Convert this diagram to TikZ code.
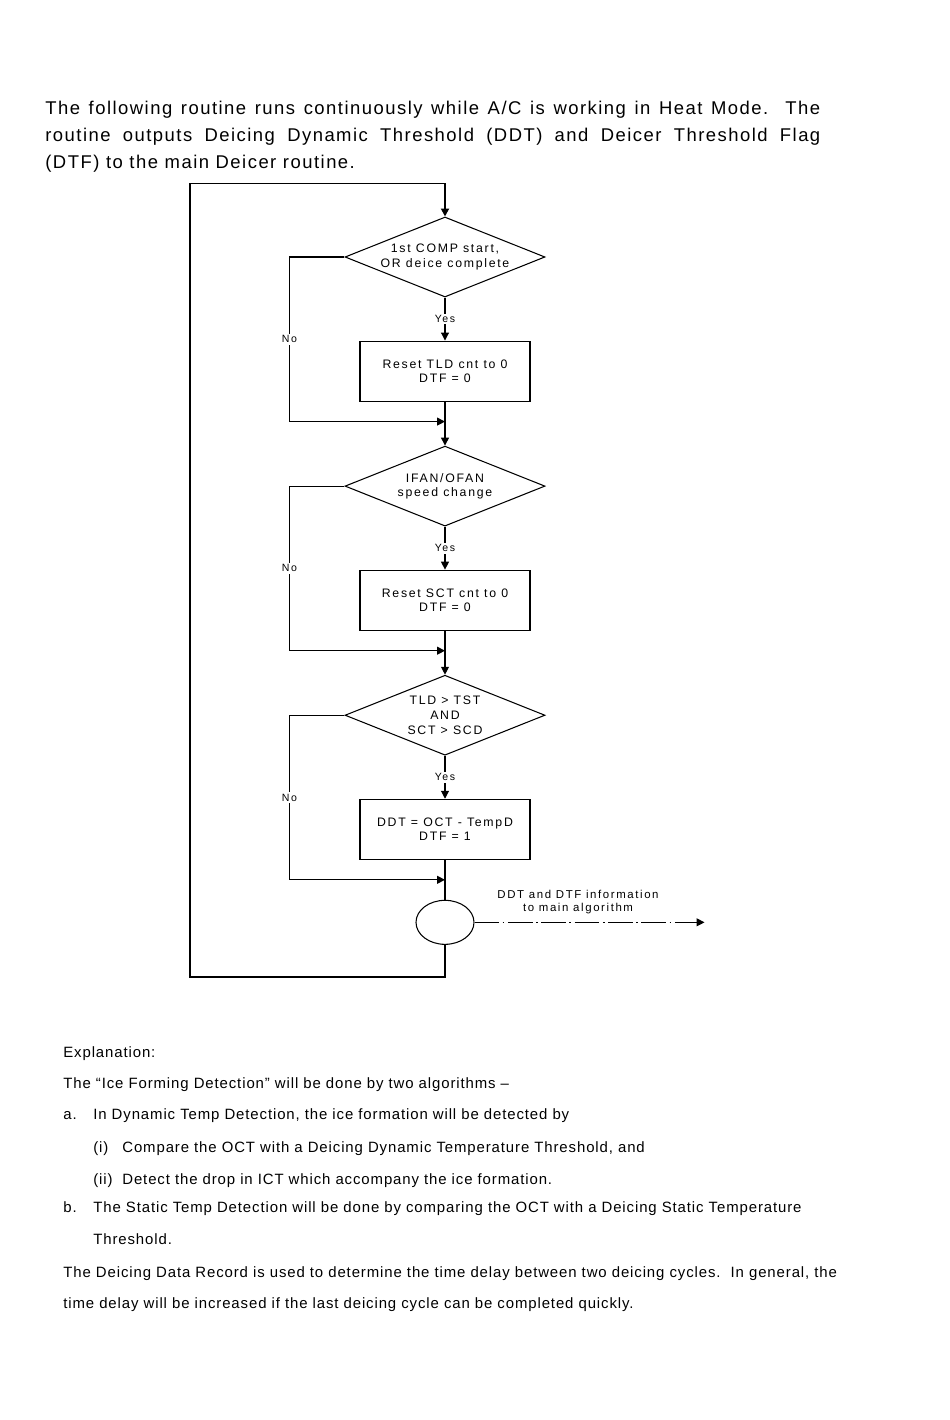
\documentclass[tikz,border=0pt]{standalone}
\usepackage{fontspec}
\setmainfont{Liberation Sans}
\newfontfamily\chartfont[LetterSpace=14]{Liberation Sans}
\newfontfamily\bodyfont[LetterSpace=8]{Liberation Sans}
\newfontfamily\notefont[LetterSpace=6]{Liberation Sans}
\usetikzlibrary{shapes.geometric, arrows.meta, positioning}
\tikzset{
    base/.style={
        draw,
        align=center,
        font=\chartfont\fontsize{7}{8.3}\selectfont,
        line width=0.6pt
    },
    decision/.style={base, diamond, aspect=2.5, minimum width=4cm, minimum height=1.6cm, inner sep=0pt},
    process/.style={base, rectangle, minimum width=3.4cm, minimum height=1.2cm, inner sep=2pt},
    junction/.style={base, ellipse, minimum width=1.16cm, minimum height=0.88cm},
    arrow/.style={-{Triangle[length=4.5pt,width=4.5pt]}, line width=0.6pt},
    loopline/.style={arrow, line width=1.1pt},
    answer/.style={font=\chartfont\fontsize{6}{7}\selectfont, fill=white, inner sep=1pt},
    infoline/.style={arrow, dash pattern=on 14pt off 2pt on 1pt off 2pt},
    bodytext/.style={anchor=base west, inner sep=0pt, font=\notefont\fontsize{8.5}{10}\selectfont}
}
\begin{document}
\begin{tikzpicture}[node distance=0.86cm]
    \useasboundingbox (0,0) rectangle (19,-28.4);

    % heading text
    \node[anchor=north west, text width=15.5cm, align=justify, inner sep=0pt,
          font=\bodyfont\fontsize{10.5}{15.3}\selectfont] (intro) at (0.9,-2.02)
        {The following routine runs continuously while A/C is working in Heat Mode.\ \ The\linebreak
         routine outputs Deicing Dynamic Threshold (DDT) and Deicer Threshold Flag\linebreak
         (DTF) to the main Deicer routine.};

    % flow chart
    \node[decision] (d1) at (8.9,-5.14) {1st COMP start,\\OR deice complete};
    \node[process, below=of d1] (b1) {Reset TLD cnt to 0\\DTF = 0};
    \coordinate[below=0.4cm of b1] (m1);
    \node[decision, below=0.48cm of m1] (d2) {IFAN/OFAN\\speed change};
    \node[process, below=of d2] (b2) {Reset SCT cnt to 0\\DTF = 0};
    \coordinate[below=0.4cm of b2] (m2);
    \node[decision, below=0.48cm of m2] (d3) {TLD > TST\\AND\\SCT > SCD};
    \node[process, below=of d3] (b3) {DDT = OCT - TempD\\DTF = 1};
    \coordinate[below=0.4cm of b3] (m3);
    \node[junction, below=0.4cm of m3] (circ) {};

    \coordinate[above=0.66cm of d1.north] (looptop);
    \coordinate (loopleft) at (3.8,-19.54);
    \coordinate[right=4.6cm of circ.east] (mainalg);

    % yes branches
    \draw[arrow] (d1) -- node[answer] {Yes} (b1);
    \draw[arrow] (d2) -- node[answer] {Yes} (b2);
    \draw[arrow] (d3) -- node[answer] {Yes} (b3);
    \draw[arrow] (b1) -- (d2);
    \draw[arrow] (b2) -- (d3);
    \draw[line width=0.6pt] (b3) -- (circ);

    % no branches
    \draw[arrow] (d1.west) -- ++(-1.1,0) |- node[answer, pos=0.25] {No} (m1);
    \draw[arrow] (d2.west) -- ++(-1.1,0) |- node[answer, pos=0.25] {No} (m2);
    \draw[arrow] (d3.west) -- ++(-1.1,0) |- node[answer, pos=0.25] {No} (m3);

    % loop back and output
    \draw[loopline] (circ.south) |- (loopleft) |- (looptop) -- (d1.north);
    \draw[infoline] (circ.east) -- node[pos=0.45, above=1pt, font=\chartfont\fontsize{6.5}{7.3}\selectfont, align=center]
        {DDT and DTF information\\to main algorithm} (mainalg);

    % explanation
    \node[bodytext] (ex0) at (1.26,-21.14) {Explanation:};
    \node[bodytext] (ex1) at (1.26,-21.77) {The “Ice Forming Detection” will be done by two algorithms –};
    \node[bodytext] (ex2) at (1.26,-22.38) {a.};
    \node[bodytext] (ex2t) at (1.86,-22.38) {In Dynamic Temp Detection, the ice formation will be detected by};
    \node[bodytext] (ex3) at (1.86,-23.04) {(i)};
    \node[bodytext] (ex3t) at (2.44,-23.04) {Compare the OCT with a Deicing Dynamic Temperature Threshold, and};
    \node[bodytext] (ex4) at (1.86,-23.69) {(ii)};
    \node[bodytext] (ex4t) at (2.44,-23.69) {Detect the drop in ICT which accompany the ice formation.};
    \node[bodytext] (ex5) at (1.26,-24.24) {b.};
    \node[bodytext] (ex5t) at (1.86,-24.24) {The Static Temp Detection will be done by comparing the OCT with a Deicing Static Temperature};
    \node[bodytext] (ex6) at (1.86,-24.88) {Threshold.};
    \node[bodytext] (ex7) at (1.26,-25.54) {The Deicing Data Record is used to determine the time delay between two deicing cycles.\ \ In general, the};
    \node[bodytext] (ex8) at (1.26,-26.16) {time delay will be increased if the last deicing cycle can be completed quickly.};
\end{tikzpicture}
\end{document}
